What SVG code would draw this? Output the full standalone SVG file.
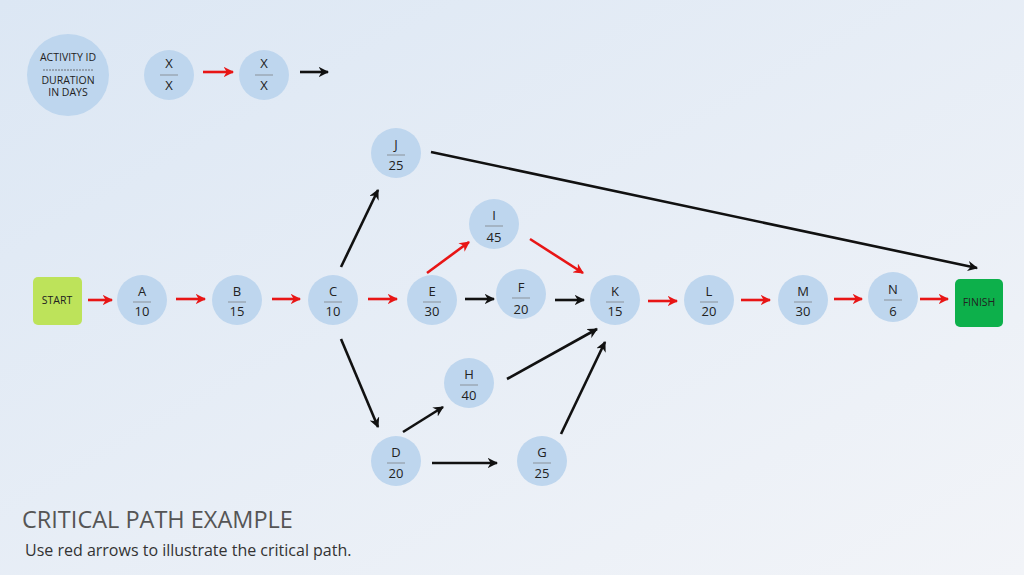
<svg xmlns="http://www.w3.org/2000/svg" width="1024" height="575" viewBox="0 0 1024 575">
<defs>
<linearGradient id="bg" x1="0" y1="0" x2="1" y2="1"><stop offset="0" stop-color="#dce7f4"/><stop offset="1" stop-color="#f2f4f8"/></linearGradient>
<marker id="ar" viewBox="0 0 10 10" refX="9" refY="5" markerWidth="4" markerHeight="4" orient="auto" markerUnits="strokeWidth"><path d="M0,0 L10,5 L0,10 L3,5 Z" fill="#e81515"/></marker>
<marker id="ab" viewBox="0 0 10 10" refX="9" refY="5" markerWidth="4" markerHeight="4" orient="auto" markerUnits="strokeWidth"><path d="M0,0 L10,5 L0,10 L3,5 Z" fill="#111"/></marker>
<style>
.n{fill:#bed6ee}
.t{font-family:"Open Sans","Noto Sans",sans-serif;font-size:13px;fill:#222;text-anchor:middle}
.s{font-family:"Open Sans","Noto Sans",sans-serif;font-size:10.5px;fill:#222;text-anchor:middle}
.d{stroke:#777;stroke-width:0.7}
.r{stroke:#e81515;stroke-width:2.6;fill:none;marker-end:url(#ar)}
.b{stroke:#111;stroke-width:2.6;fill:none;marker-end:url(#ab)}
</style>
</defs>
<rect width="1024" height="575" fill="url(#bg)"/>
<g id="legend">
<circle class="n" cx="68" cy="75" r="41"/>
<text class="s" x="68" y="61">ACTIVITY ID</text>
<line x1="43" y1="70" x2="93" y2="70" stroke="#555" stroke-width="0.8" stroke-dasharray="2 1"/>
<text class="s" x="68" y="84">DURATION</text>
<text class="s" x="68" y="96">IN DAYS</text>
<circle class="n" cx="169" cy="75" r="25"/><text class="t" x="169" y="68">X</text><line class="d" x1="160" y1="75" x2="178" y2="75"/><text class="t" x="169" y="90">X</text>
<circle class="n" cx="264" cy="75" r="25"/><text class="t" x="264" y="68">X</text><line class="d" x1="255" y1="75" x2="273" y2="75"/><text class="t" x="264" y="90">X</text>
<line class="r" x1="203" y1="72" x2="233" y2="72"/>
<line class="b" x1="300" y1="72" x2="328" y2="72"/>
</g>
<g id="start"><rect x="33" y="277" width="49" height="48" rx="5" fill="#bde35a"/><text class="s" x="57" y="304">START</text></g>
<g id="finish"><rect x="955" y="279" width="48" height="48" rx="5" fill="#0db04b"/><text class="s" x="979" y="306">FINISH</text></g>
<g id="nodes">
<g id="A"><circle class="n" cx="142" cy="300" r="25"/><text class="t" x="142" y="296">A</text><line class="d" x1="133" y1="302" x2="151" y2="302"/><text class="t" x="142" y="316">10</text></g>
<g id="B"><circle class="n" cx="237" cy="300" r="25"/><text class="t" x="237" y="296">B</text><line class="d" x1="228" y1="302" x2="246" y2="302"/><text class="t" x="237" y="316">15</text></g>
<g id="C"><circle class="n" cx="333" cy="300" r="25"/><text class="t" x="333" y="296">C</text><line class="d" x1="324" y1="302" x2="342" y2="302"/><text class="t" x="333" y="316">10</text></g>
<g id="E"><circle class="n" cx="432" cy="300" r="25"/><text class="t" x="432" y="296">E</text><line class="d" x1="423" y1="302" x2="441" y2="302"/><text class="t" x="432" y="316">30</text></g>
<g id="F"><circle class="n" cx="521" cy="294" r="25"/><text class="t" x="521" y="292">F</text><line class="d" x1="512" y1="298" x2="530" y2="298"/><text class="t" x="521" y="314">20</text></g>
<g id="K"><circle class="n" cx="615" cy="300" r="25"/><text class="t" x="615" y="296">K</text><line class="d" x1="606" y1="302" x2="624" y2="302"/><text class="t" x="615" y="316">15</text></g>
<g id="L"><circle class="n" cx="709" cy="300" r="25"/><text class="t" x="709" y="296">L</text><line class="d" x1="700" y1="302" x2="718" y2="302"/><text class="t" x="709" y="316">20</text></g>
<g id="M"><circle class="n" cx="803" cy="300" r="25"/><text class="t" x="803" y="296">M</text><line class="d" x1="794" y1="302" x2="812" y2="302"/><text class="t" x="803" y="316">30</text></g>
<g id="N"><circle class="n" cx="893" cy="297" r="25"/><text class="t" x="893" y="294">N</text><line class="d" x1="884" y1="300" x2="902" y2="300"/><text class="t" x="893" y="316">6</text></g>
<g id="J"><circle class="n" cx="396" cy="153" r="25"/><text class="t" x="396" y="149">J</text><line class="d" x1="387" y1="155" x2="405" y2="155"/><text class="t" x="396" y="170">25</text></g>
<g id="I"><circle class="n" cx="494" cy="224" r="25"/><text class="t" x="494" y="220">I</text><line class="d" x1="485" y1="226" x2="503" y2="226"/><text class="t" x="494" y="242">45</text></g>
<g id="H"><circle class="n" cx="469" cy="383" r="25"/><text class="t" x="469" y="379">H</text><line class="d" x1="460" y1="385" x2="478" y2="385"/><text class="t" x="469" y="400">40</text></g>
<g id="D"><circle class="n" cx="396" cy="461" r="25"/><text class="t" x="396" y="457">D</text><line class="d" x1="387" y1="463" x2="405" y2="463"/><text class="t" x="396" y="478">20</text></g>
<g id="G"><circle class="n" cx="542" cy="461" r="25"/><text class="t" x="542" y="457">G</text><line class="d" x1="533" y1="463" x2="551" y2="463"/><text class="t" x="542" y="478">25</text></g>
</g>
<g id="connectors">
<line class="r" x1="88" y1="300" x2="112" y2="300"/>
<line class="r" x1="176" y1="299" x2="205" y2="299"/>
<line class="r" x1="272" y1="299" x2="300" y2="299"/>
<line class="r" x1="368" y1="299" x2="397" y2="299"/>
<line class="b" x1="465" y1="299" x2="494" y2="299"/>
<line class="b" x1="555" y1="300" x2="584" y2="300"/>
<line class="r" x1="648" y1="301" x2="677" y2="301"/>
<line class="r" x1="741" y1="300" x2="770" y2="300"/>
<line class="r" x1="834" y1="299" x2="862" y2="299"/>
<line class="r" x1="920" y1="299" x2="948" y2="299"/>
<line class="b" x1="341" y1="267" x2="378" y2="190"/>
<line class="b" x1="431" y1="152" x2="977" y2="268"/>
<line class="r" x1="427" y1="273" x2="469" y2="242"/>
<line class="r" x1="530" y1="239" x2="583" y2="273"/>
<line class="b" x1="341" y1="339" x2="378" y2="427"/>
<line class="b" x1="403" y1="432" x2="443" y2="407"/>
<line class="b" x1="507" y1="379" x2="597" y2="329"/>
<line class="b" x1="432" y1="463" x2="497" y2="463"/>
<line class="b" x1="561" y1="434" x2="605" y2="342"/>
</g>
<text x="22" y="528" font-family="'Open Sans','Noto Sans',sans-serif" font-size="23.5" fill="#555">CRITICAL PATH EXAMPLE</text>
<text x="25" y="556" font-family="'Open Sans','Noto Sans',sans-serif" font-size="16" fill="#333">Use red arrows to illustrate the critical path.</text>
</svg>
